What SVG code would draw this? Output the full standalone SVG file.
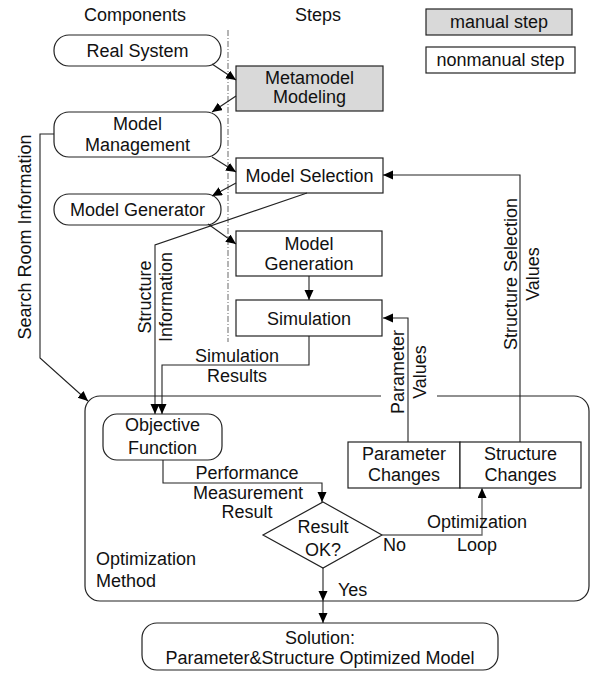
<svg xmlns="http://www.w3.org/2000/svg" width="592" height="675" viewBox="0 0 592 675">
  <defs>
    <marker id="arrow" markerUnits="userSpaceOnUse" markerWidth="11" markerHeight="10" refX="10" refY="4.5" orient="auto">
      <path d="M0,0 L10,4.5 L0,9 Z" fill="#000"/>
    </marker>
    <style>
      text { font-family: "Liberation Sans", Arial, sans-serif; font-size: 18px; fill: #111; }
      .c { text-anchor: middle; }
      .box { fill: #fff; stroke: #222; stroke-width: 1.2; }
      .manual { fill: #d9d9d9; stroke: #222; stroke-width: 1.2; }
      .link { fill: none; stroke: #222; stroke-width: 1.1; marker-end: url(#arrow); }
      .loop { fill: none; stroke: #666; stroke-width: 1.3; marker-end: url(#arrow); }
    </style>
  </defs>

  <rect width="592" height="675" fill="#fff"/>

  <!-- column headers -->
  <text class="c" x="135" y="21">Components</text>
  <text class="c" x="318" y="21">Steps</text>

  <!-- legend -->
  <g id="legend-manual">
    <rect class="manual" x="426" y="9" width="146" height="26"/>
    <text class="c" x="499" y="28">manual step</text>
  </g>
  <g id="legend-nonmanual">
    <rect class="box" x="426" y="47" width="149" height="26"/>
    <text class="c" x="500.5" y="66">nonmanual step</text>
  </g>

  <!-- separator between components and steps -->
  <line x1="228" y1="30" x2="228" y2="342" stroke="#777" stroke-width="1.1" stroke-dasharray="6 2 1 2"/>

  <!-- optimization method container -->
  <g id="optimization-method">
    <rect class="box" x="85" y="396" width="504" height="205" rx="15"/>
    <text x="96" y="565">Optimization</text>
    <text x="96" y="587">Method</text>
  </g>

  <!-- components -->
  <g id="real-system">
    <rect class="box" x="54" y="35" width="167" height="31" rx="15"/>
    <text class="c" x="137.5" y="57">Real System</text>
  </g>
  <g id="model-management">
    <rect class="box" x="54" y="112" width="167" height="45" rx="15"/>
    <text class="c" x="137.5" y="130">Model</text>
    <text class="c" x="137.5" y="151">Management</text>
  </g>
  <g id="model-generator">
    <rect class="box" x="54" y="194" width="167" height="31" rx="15"/>
    <text class="c" x="137.5" y="216">Model Generator</text>
  </g>

  <!-- steps -->
  <g id="metamodel-modeling">
    <rect class="manual" x="236" y="66" width="147" height="45"/>
    <text class="c" x="309.5" y="84">Metamodel</text>
    <text class="c" x="309.5" y="103">Modeling</text>
  </g>
  <g id="model-selection">
    <rect class="box" x="236" y="158" width="147" height="35"/>
    <text class="c" x="309.5" y="182">Model Selection</text>
  </g>
  <g id="model-generation">
    <rect class="box" x="236" y="231" width="146" height="45"/>
    <text class="c" x="309" y="250">Model</text>
    <text class="c" x="309" y="270">Generation</text>
  </g>
  <g id="simulation">
    <rect class="box" x="236" y="300" width="146" height="36"/>
    <text class="c" x="309" y="325">Simulation</text>
  </g>

  <!-- optimization internals -->
  <g id="objective-function">
    <rect class="box" x="103" y="414" width="119" height="46" rx="14"/>
    <text class="c" x="162.5" y="431">Objective</text>
    <text class="c" x="162.5" y="454">Function</text>
  </g>
  <g id="parameter-changes">
    <rect class="box" x="348" y="442" width="112" height="46"/>
    <text class="c" x="404" y="460">Parameter</text>
    <text class="c" x="404" y="481">Changes</text>
  </g>
  <g id="structure-changes">
    <rect class="box" x="460" y="442" width="121" height="46"/>
    <text class="c" x="520.5" y="460">Structure</text>
    <text class="c" x="520.5" y="481">Changes</text>
  </g>
  <g id="result-ok">
    <polygon class="box" points="323,502 382,535 323,568 263,535"/>
    <text class="c" x="323" y="533">Result</text>
    <text class="c" x="323" y="556">OK?</text>
  </g>

  <g id="solution">
    <rect class="box" x="142" y="623" width="356" height="47" rx="15"/>
    <text class="c" x="320" y="644">Solution:</text>
    <text class="c" x="320" y="664">Parameter&amp;Structure Optimized Model</text>
  </g>

  <!-- connectors -->
  <g id="connectors">
    <line class="link" x1="212" y1="64" x2="236" y2="80"/>
    <line class="link" x1="236" y1="96" x2="212" y2="112"/>
    <line class="link" x1="212" y1="157" x2="236" y2="172"/>
    <line class="link" x1="236" y1="183" x2="212" y2="196"/>
    <line class="link" x1="208" y1="224" x2="236" y2="244"/>
    <line class="link" x1="309" y1="276" x2="309" y2="300"/>

    <!-- search room information -->
    <polyline class="link" points="54,134 40,134 40,358 88,401"/>
    <text class="c" transform="translate(31,237) rotate(-90)">Search Room Information</text>

    <!-- structure information -->
    <polyline class="link" points="307,193 155,245 155,414"/>
    <text class="c" transform="translate(151,297) rotate(-90)">Structure</text>
    <text class="c" transform="translate(172,297) rotate(-90)">Information</text>

    <!-- simulation results -->
    <polyline class="link" points="309,336 309,365 162,365 162,414"/>
    <text class="c" x="237" y="362">Simulation</text>
    <text class="c" x="237" y="382">Results</text>

    <!-- performance measurement -->
    <polyline class="link" points="163,460 163,483 322,483 322,502"/>
    <text class="c" x="247" y="479">Performance</text>
    <text class="c" x="248" y="499">Measurement</text>
    <text class="c" x="247" y="518">Result</text>

    <!-- optimization loop -->
    <polyline class="loop" points="382,535 482,535 482,488"/>
    <text x="383" y="551">No</text>
    <text class="c" x="477" y="528">Optimization</text>
    <text class="c" x="477" y="551">Loop</text>

    <!-- parameter values -->
    <rect x="381" y="392" width="56" height="8" fill="#fff"/>
    <polyline class="link" points="408,442 408,318 383,318"/>
    <text class="c" transform="translate(404,372) rotate(-90)">Parameter</text>
    <text class="c" transform="translate(426,372) rotate(-90)">Values</text>

    <!-- structure selection values -->
    <polyline class="link" points="520,442 520,175 383,175"/>
    <text class="c" transform="translate(517,274) rotate(-90)">Structure Selection</text>
    <text class="c" transform="translate(539,274) rotate(-90)">Values</text>

    <!-- accepted result -->
    <line class="link" x1="323" y1="568" x2="323" y2="601"/>
    <line class="link" x1="323" y1="601" x2="323" y2="623"/>
    <text x="338" y="596">Yes</text>
  </g>
</svg>
